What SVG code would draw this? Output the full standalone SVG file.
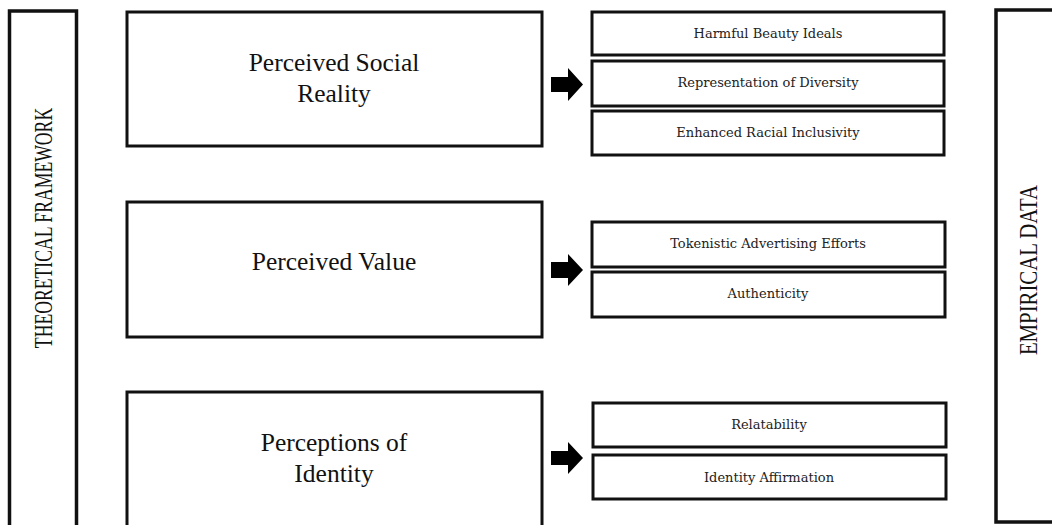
<svg xmlns="http://www.w3.org/2000/svg" width="1052" height="525" viewBox="0 0 1052 525">
<style>
.frame{fill:#fff;stroke:#111;stroke-width:3.5}
.main{fill:#fff;stroke:#111;stroke-width:3}
.sub{fill:#fff;stroke:#111;stroke-width:3}
.big{font-family:"Liberation Serif",serif;font-size:25.5px;fill:#111;text-anchor:middle}
.side{font-family:"Liberation Serif",serif;font-size:26px;fill:#111;text-anchor:middle}
.small{font-family:"DejaVu Serif","Liberation Serif",serif;font-size:13px;fill:#222;text-anchor:middle}
.arrow{fill:#000}
</style>
<rect width="1052" height="525" fill="#fff"/>
<g id="theoretical-framework">
<rect class="frame" x="9.5" y="11" width="67" height="520"/>
<text class="side" transform="translate(52,228) rotate(-90) scale(0.68,1)" x="0" y="0">THEORETICAL FRAMEWORK</text>
</g>
<g id="empirical-data">
<rect class="frame" x="996" y="10" width="70" height="512"/>
<text class="side" transform="translate(1037,270) rotate(-90) scale(0.8,1)" x="0" y="0">EMPIRICAL DATA</text>
</g>
<g id="perceived-social-reality">
<rect class="main" x="127" y="12" width="415" height="134"/>
<text class="big" x="334" y="71">Perceived Social</text>
<text class="big" x="334" y="102">Reality</text>
</g>
<g id="perceived-value">
<rect class="main" x="127" y="202" width="415" height="135"/>
<text class="big" x="334" y="270">Perceived Value</text>
</g>
<g id="perceptions-of-identity">
<rect class="main" x="127" y="392" width="415" height="145"/>
<text class="big" x="334" y="451">Perceptions of</text>
<text class="big" x="334" y="482">Identity</text>
</g>
<g id="harmful-beauty-ideals">
<rect class="sub" x="592" y="12" width="352" height="43"/>
<text class="small" x="768" y="38">Harmful Beauty Ideals</text>
</g>
<g id="representation-of-diversity">
<rect class="sub" x="592" y="61" width="352" height="45"/>
<text class="small" x="768" y="87">Representation of Diversity</text>
</g>
<g id="enhanced-racial-inclusivity">
<rect class="sub" x="592" y="111" width="352" height="44"/>
<text class="small" x="768" y="137">Enhanced Racial Inclusivity</text>
</g>
<g id="tokenistic-advertising-efforts">
<rect class="sub" x="592" y="222" width="353" height="45"/>
<text class="small" x="768" y="248">Tokenistic Advertising Efforts</text>
</g>
<g id="authenticity">
<rect class="sub" x="592" y="272" width="353" height="45"/>
<text class="small" x="768" y="298">Authenticity</text>
</g>
<g id="relatability">
<rect class="sub" x="593" y="403" width="353" height="44"/>
<text class="small" x="769" y="429">Relatability</text>
</g>
<g id="identity-affirmation">
<rect class="sub" x="593" y="455" width="353" height="44"/>
<text class="small" x="769" y="482">Identity Affirmation</text>
</g>
<g id="connectors">
<path class="arrow" d="M551,77 H568 V68 L583,84.5 L568,101 V92 H551 Z"/>
<path class="arrow" d="M551,262 H568 V254 L583,270 L568,286 V278 H551 Z"/>
<path class="arrow" d="M551,451 H568 V442 L583,458 L568,474 V465 H551 Z"/>
</g>
</svg>
